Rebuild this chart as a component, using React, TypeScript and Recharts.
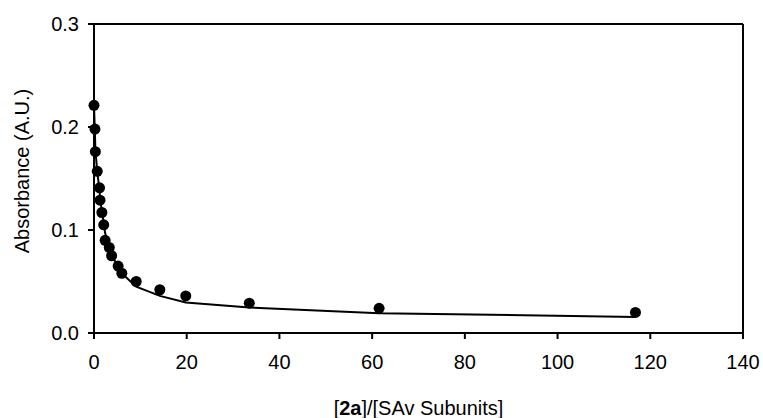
import { ReferenceLine, Scatter, ScatterChart, XAxis, YAxis } from "recharts";

// ratio [2a]/[SAv subunits]
const ratio = [0, 0.2, 0.3, 0.7, 1.2, 1.3, 1.7, 2.1, 2.4, 3.3, 3.8, 5.2, 6.0, 9.1, 14.2, 19.8, 33.5, 61.5, 116.8];
// measured absorbance
const absorbance = [0.221, 0.198, 0.176, 0.157, 0.141, 0.129, 0.117, 0.105, 0.09, 0.083, 0.075, 0.065, 0.058, 0.05, 0.042, 0.036, 0.029, 0.024, 0.02];
// fitted curve, same x points
const fitted = [0.221, 0.194, 0.178, 0.156, 0.139, 0.131, 0.118, 0.106, 0.097, 0.083, 0.076, 0.064, 0.058, 0.045, 0.036, 0.0296, 0.0247, 0.0192, 0.0156];

const xTicks = [0, 20, 40, 60, 80, 100, 120, 140];
const yTicks = [0, 0.1, 0.2, 0.3];

const points = ratio.map((x, i) => ({ x, y: absorbance[i] }));
const fitLine = ratio.map((x, i) => ({ x, y: fitted[i] }));

const font = "'Liberation Sans', Arial, sans-serif";
const tickStyle = { fill: "#000", fontSize: 20, fontFamily: font };

const Dot = (props: any) => <circle cx={props.cx} cy={props.cy} r={5.5} fill="#000" />;

export default function App() {
  return (
    <div style={{ position: "absolute", left: 0, top: 0 }}>
      <ScatterChart
        width={763}
        height={418}
        margin={{ top: 24, right: 20, left: 34, bottom: 45 }}
      >
        <XAxis
          type="number"
          dataKey="x"
          domain={[0, 140]}
          ticks={xTicks}
          stroke="#000"
          strokeWidth={2}
          tickSize={6}
          tick={tickStyle}
          tickMargin={16}
          height={40}
          label={{
            content: (props: any) => {
              const vb = props.viewBox;
              return (
                <text
                  x={vb.x + vb.width / 2}
                  y={vb.y + 82}
                  textAnchor="middle"
                  fontSize={20}
                  fontFamily={font}
                  fill="#000"
                >
                  [<tspan fontWeight="bold">2a</tspan>]/[SAv Subunits]
                </text>
              );
            },
          }}
        />
        <YAxis
          type="number"
          dataKey="y"
          domain={[0, 0.3]}
          ticks={yTicks}
          tickFormatter={(v: number) => v.toFixed(1)}
          stroke="#000"
          strokeWidth={2}
          tickSize={6}
          tick={tickStyle}
          tickMargin={9}
          width={60}
          label={{
            content: () => (
              <text
                x={0}
                y={0}
                transform="translate(29, 171) rotate(-90)"
                textAnchor="middle"
                fontSize={20}
                fontFamily={font}
                fill="#000"
              >
                Absorbance (A.U.)
              </text>
            ),
          }}
        />
        <ReferenceLine y={0.3} stroke="#000" strokeWidth={2} />
        <ReferenceLine x={140} stroke="#000" strokeWidth={2} />
        <Scatter
          data={fitLine}
          line={{ stroke: "#000", strokeWidth: 2 }}
          shape={() => null}
          isAnimationActive={false}
        />
        <Scatter data={points} fill="#000" shape={Dot} isAnimationActive={false} />
      </ScatterChart>
    </div>
  );
}
